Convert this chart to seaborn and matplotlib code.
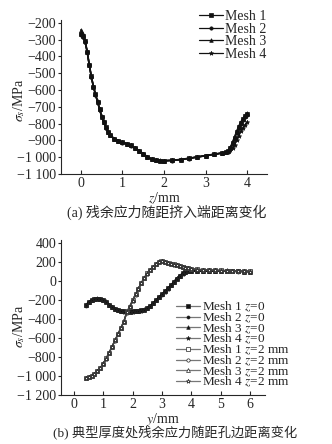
import matplotlib
matplotlib.use("Agg")
import matplotlib.pyplot as plt
import seaborn as sns
import numpy as np
import pandas as pd
from matplotlib.lines import Line2D

# ---------------- data: (a) stress vs distance from entry end ----------------
z_mm = [0.0, 0.05, 0.1, 0.15, 0.2, 0.25, 0.3, 0.35, 0.4, 0.45, 0.5, 0.55, 0.6, 0.65,
        0.7, 0.8, 0.9, 1.0, 1.1, 1.2, 1.3, 1.4, 1.5, 1.6, 1.7, 1.8, 1.9, 2.0, 2.2,
        2.4, 2.6, 2.8, 3.0, 3.2, 3.4, 3.5, 3.55, 3.6, 3.65, 3.7, 3.75, 3.8, 3.85,
        3.9, 3.95, 4.0]
a_mesh1 = [-265, -282, -310, -372, -450, -520, -580, -625, -670, -715, -758, -790,
           -823, -850, -868, -890, -902, -912, -920, -930, -945, -962, -980, -998,
           -1012, -1018, -1020, -1021, -1019, -1014, -1007, -999, -991, -983, -975,
           -970, -964, -944, -915, -884, -850, -820, -795, -775, -757, -742]
a_mesh2 = [-275, -288, -314, -375, -452, -522, -582, -628, -672, -717, -760, -792,
           -825, -852, -870, -891, -903, -913, -921, -931, -946, -963, -981, -999,
           -1013, -1019, -1021, -1022, -1020, -1015, -1008, -1000, -992, -984, -976,
           -971, -966, -948, -920, -889, -855, -825, -800, -780, -762, -748]
a_mesh3 = [-242, -268, -305, -368, -447, -517, -578, -623, -668, -712, -756, -788,
           -821, -848, -866, -889, -901, -911, -919, -929, -944, -961, -979, -997,
           -1011, -1017, -1019, -1020, -1018, -1013, -1006, -998, -990, -982, -974,
           -969, -962, -940, -910, -878, -845, -815, -790, -770, -752, -738]
a_mesh4 = [-265, -284, -312, -374, -451, -521, -581, -626, -671, -716, -759, -791,
           -824, -851, -869, -890, -902, -912, -920, -930, -945, -962, -980, -998,
           -1012, -1018, -1020, -1021, -1019, -1014, -1007, -999, -991, -983, -976,
           -972, -968, -960, -945, -925, -900, -872, -846, -825, -808, -792]

# ---------------- data: (b) stress vs distance from hole edge ----------------
y_mm = [0.4, 0.5, 0.6, 0.7, 0.8, 0.9, 1.0, 1.1, 1.2, 1.3, 1.4, 1.5, 1.6, 1.7, 1.8,
        1.9, 2.0, 2.1, 2.2, 2.3, 2.4, 2.5, 2.6, 2.7, 2.8, 2.9, 3.0, 3.1, 3.2, 3.3,
        3.4, 3.5, 3.6, 3.7, 3.8, 3.9, 4.0, 4.2, 4.4, 4.6, 4.8, 5.0, 5.2, 5.4, 5.6,
        5.8, 6.0]
b_z0_mesh1 = [-255, -222, -202, -190, -184, -187, -198, -216, -255, -275, -292, -305,
              -315, -320, -322, -322, -320, -318, -315, -310, -300, -285, -262, -232,
              -200, -168, -140, -110, -78, -44, -10, 25, 55, 80, 97, 104, 106, 106,
              106, 105, 105, 104, 103, 102, 101, 100, 100]
b_z0_mesh2 = [-258, -224, -203, -191, -185, -188, -199, -218, -257, -277, -294, -307,
              -317, -322, -324, -324, -322, -320, -317, -312, -302, -287, -264, -234,
              -202, -170, -142, -112, -80, -46, -12, 23, 53, 78, 96, 103, 105, 105,
              105, 104, 104, 103, 102, 101, 100, 99, 99]
b_z0_mesh3 = [-252, -220, -200, -189, -183, -186, -197, -215, -253, -273, -290, -303,
              -313, -318, -320, -320, -318, -316, -313, -308, -298, -283, -260, -230,
              -198, -166, -138, -108, -76, -42, -8, 27, 57, 82, 98, 105, 107, 107,
              107, 106, 106, 105, 104, 103, 102, 101, 101]
b_z0_mesh4 = [-256, -223, -202, -190, -184, -187, -198, -217, -256, -276, -293, -306,
              -316, -321, -323, -323, -321, -319, -316, -311, -301, -286, -263, -233,
              -201, -169, -141, -111, -79, -45, -11, 24, 54, 79, 96, 104, 106, 106,
              106, 105, 105, 104, 103, 102, 101, 100, 100]
b_z2_mesh1 = [-1020, -1012, -998, -978, -950, -915, -870, -815, -755, -690, -625, -560,
              -495, -428, -330, -270, -205, -140, -80, -20, 35, 80, 115, 150, 180, 205,
              212, 202, 193, 184, 175, 166, 157, 149, 141, 134, 128, 122, 118, 115, 113,
              111, 109, 107, 105, 103, 101]
b_z2_mesh2 = [-1022, -1014, -1000, -980, -952, -917, -872, -817, -757, -692, -627, -562,
              -497, -430, -332, -272, -207, -142, -82, -22, 33, 78, 113, 148, 178, 203,
              210, 200, 191, 182, 173, 164, 155, 147, 139, 132, 126, 120, 116, 113, 111,
              109, 107, 105, 103, 101, 99]
b_z2_mesh3 = [-1018, -1010, -996, -976, -948, -913, -868, -813, -753, -688, -623, -558,
              -493, -426, -328, -268, -203, -138, -78, -18, 37, 82, 117, 152, 182, 207,
              214, 204, 195, 186, 177, 168, 159, 151, 143, 136, 130, 124, 120, 117, 115,
              113, 111, 109, 107, 105, 103]
b_z2_mesh4 = [-1021, -1013, -999, -979, -951, -916, -871, -816, -756, -691, -626, -561,
              -496, -429, -331, -271, -206, -141, -81, -21, 34, 79, 114, 149, 179, 204,
              211, 201, 192, 183, 174, 165, 156, 148, 140, 133, 127, 121, 117, 114, 112,
              110, 108, 106, 104, 102, 100]

a_labels = ["Mesh 1", "Mesh 2", "Mesh 3", "Mesh 4"]
b_labels = ["Mesh 1 $z$=0", "Mesh 2 $z$=0", "Mesh 3 $z$=0", "Mesh 4 $z$=0",
            "Mesh 1 $z$=2 mm", "Mesh 2 $z$=2 mm", "Mesh 3 $z$=2 mm", "Mesh 4 $z$=2 mm"]

a_xticks = [0, 1, 2, 3, 4]
a_yticks = [-200, -300, -400, -500, -600, -700, -800, -900, -1000, -1100]
a_yticklabels = ["\u2212200", "\u2212300", "\u2212400", "\u2212500", "\u2212600",
                 "\u2212700", "\u2212800", "\u2212900", "\u22121 000", "\u22121 100"]
b_xticks = [0, 1, 2, 3, 4, 5, 6]
b_yticks = [400, 200, 0, -200, -400, -600, -800, -1000, -1200]
b_yticklabels = ["400", "200", "0", "\u2212200", "\u2212400", "\u2212600", "\u2212800",
                 "\u22121 000", "\u22121 200"]

cap_a = "(a) 残余应力随距挤入端距离变化"
cap_b = "(b) 典型厚度处残余应力随距孔边距离变化"

# ---------------- style ----------------
sns.set_theme(style="ticks")
plt.rcParams["font.family"] = ["Liberation Serif", "Noto Sans CJK SC"]
plt.rcParams["mathtext.fontset"] = "stix"
plt.rcParams["axes.linewidth"] = 0.8

FS = 10
fig = plt.figure(figsize=(3.32, 4.44), dpi=100)

W, H = 332.0, 444.0
def axes_px(left, top, right, bottom):
    return fig.add_axes([left / W, 1 - bottom / H, (right - left) / W, (bottom - top) / H])

def style_axes(ax):
    sns.despine(ax=ax)
    ax.tick_params(axis="x", direction="in", length=3, width=0.8, labelsize=FS, pad=2)
    ax.tick_params(axis="y", direction="out", length=2.5, width=0.8, labelsize=FS, pad=1)
    ax.grid(False)

# ---------------- panel (a) ----------------
ax1 = axes_px(61, 20, 267, 174)
a_series = [a_mesh1, a_mesh2, a_mesh3, a_mesh4]
a_markers = ["s", "o", "^", "*"]
a_ms = [2.2, 2.4, 2.6, 3.2]
for vals, lab, mk, ms in zip(a_series, a_labels, a_markers, a_ms):
    sns.lineplot(x=z_mm, y=vals, ax=ax1, color="#111111", lw=1.1, marker=mk,
                 markersize=ms, markeredgewidth=0.5, markeredgecolor="#111111",
                 markerfacecolor="#111111", sort=False, legend=False)
ax1.set_xlim(-0.48, 4.48)
ax1.set_ylim(-1100, -184)
ax1.set_xticks(a_xticks)
ax1.set_yticks(a_yticks)
ax1.set_yticklabels(a_yticklabels)
style_axes(ax1)
ax1.set_xlabel("$z$/mm", fontsize=FS, labelpad=0.5)
ax1.set_ylabel(r"$\sigma_s$/MPa", fontsize=FS)
ax1.yaxis.set_label_coords(-0.166, 0.48)

h1 = [Line2D([], [], color="#111111", lw=0.9, marker=m, markersize=s,
             markerfacecolor="#111111", markeredgecolor="#111111", markeredgewidth=0.5)
      for m, s in zip(a_markers, a_ms)]
fig.legend(h1, a_labels, loc="upper left", bbox_to_anchor=(199 / W, 1 - 10 / H),
           frameon=False, fontsize=FS, handlelength=1.7, handletextpad=0.15,
           labelspacing=-0.03, borderpad=0, borderaxespad=0)

fig.text(167 / W, 1 - 212 / H, cap_a, ha="center", va="center", fontsize=FS,
         family=["Liberation Serif", "Noto Sans CJK SC"])

# ---------------- panel (b) ----------------
ax2 = axes_px(61, 240, 265, 395)
b_series = [b_z0_mesh1, b_z0_mesh2, b_z0_mesh3, b_z0_mesh4,
            b_z2_mesh1, b_z2_mesh2, b_z2_mesh3, b_z2_mesh4]
b_markers = ["s", "o", "^", "*", "s", "o", "^", "*"]
b_ms = [2.2, 2.2, 2.6, 3.2, 2.4, 2.4, 2.8, 3.2]
b_fill = [True] * 4 + [False] * 4
b_colors = ["#111111"] * 4 + ["#444444"] * 4
for vals, lab, mk, ms, fill, col in zip(b_series, b_labels, b_markers, b_ms, b_fill, b_colors):
    sns.lineplot(x=y_mm, y=vals, ax=ax2, color=col, lw=1.0, marker=mk, markersize=ms,
                 markeredgewidth=0.5, markeredgecolor="#222222",
                 markerfacecolor=("#111111" if fill else "white"), sort=False, legend=False)
ax2.set_xlim(-0.44, 6.51)
ax2.set_ylim(-1200, 432)
ax2.set_xticks(b_xticks)
ax2.set_yticks(b_yticks)
ax2.set_yticklabels(b_yticklabels)
style_axes(ax2)
ax2.set_xlabel("$y$/mm", fontsize=FS, labelpad=0.5)
ax2.set_ylabel(r"$\sigma_s$/MPa", fontsize=FS)
ax2.yaxis.set_label_coords(-0.168, 0.445)

h2 = [Line2D([], [], color="#777777", lw=0.9, marker=m, markersize=s,
             markerfacecolor=("#111111" if f else "white"), markeredgecolor="#222222",
             markeredgewidth=0.5)
      for m, s, f in zip(b_markers, b_ms, b_fill)]
fig.legend(h2, b_labels, loc="upper left", bbox_to_anchor=(176 / W, 1 - 300 / H),
           frameon=False, fontsize=9.5, handlelength=1.8, handletextpad=0.15,
           labelspacing=-0.27, borderpad=0, borderaxespad=0)

fig.text(175 / W, 1 - 433 / H, cap_b, ha="center", va="center", fontsize=9.5,
         family=["Liberation Serif", "Noto Sans CJK SC"])

fig.savefig("out.png", dpi=100)
